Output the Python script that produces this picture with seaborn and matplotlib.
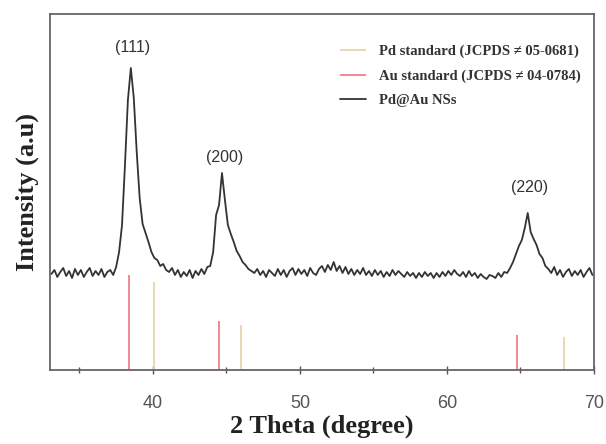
import numpy as np
import pandas as pd
import matplotlib
matplotlib.use("Agg")
import matplotlib.pyplot as plt
import seaborn as sns

# XRD pattern of Pd@Au NSs (0.2 deg steps from 33.1)
two_theta = np.round(np.arange(33.1, 70.0, 0.2), 1)
intensity = [
    96, 100, 93, 98, 102,
    94, 99, 92, 101, 95,
    100, 93, 98, 102, 94,
    99, 95, 101, 93, 98,
    100, 95, 103, 118, 145,
    205, 270, 302, 272, 218,
    172, 146, 137, 128, 118,
    112, 110, 104, 106, 100,
    98, 102, 95, 100, 93,
    98, 94, 100, 92, 99,
    95, 101, 96, 103, 104,
    118, 155, 165, 197, 170,
    145, 136, 128, 119, 114,
    108, 105, 101, 99, 97,
    101, 95, 99, 93, 100,
    97, 94, 101, 95, 100,
    93, 99, 102, 95, 101,
    96, 100, 94, 102, 97,
    95, 101, 104, 98, 105,
    100, 108, 99, 104, 97,
    103, 96, 101, 95, 100,
    96, 102, 95, 99, 94,
    100, 95, 99, 93, 98,
    94, 100, 95, 99, 96,
    93, 98, 94, 97, 92,
    97, 93, 98, 94, 97,
    92, 97, 93, 98, 94,
    99, 95, 100, 96, 94,
    98, 93, 99, 94, 97,
    92, 96, 93, 91, 95,
    94, 92, 97, 93, 98,
    97, 102, 108, 116, 124,
    130, 142, 157, 138, 131,
    125, 116, 112, 104, 101,
    97, 103, 95, 100, 93,
    98, 101, 94, 99, 95,
    100, 93, 98, 102, 95,
]

# reference line patterns
pd_pos = [40.1, 46.0, 68.0]
pd_height = [88, 45, 33]
au_pos = [38.4, 44.5, 64.8]
au_height = [95, 49, 35]

peak_labels = ["(111)", "(200)", "(220)"]
peak_x = [38.6, 44.9, 65.6]
peak_y = [322, 212, 182]

df = pd.DataFrame({"two_theta": two_theta, "intensity": intensity})

sns.set_style("white")
plt.rcParams["font.family"] = ["Liberation Sans", "DejaVu Sans"]

fig = plt.figure(figsize=(6.06, 4.44), dpi=100)
ax = fig.add_axes([0.0825, 0.1667, 0.8975, 0.8018])

ax.vlines(pd_pos, 0, pd_height, color="#e6d6aa", lw=1.3, label="Pd standard (JCPDS \u2260 05-0681)")
ax.vlines(au_pos, 0, au_height, color="#ef7f88", lw=1.3, label="Au standard (JCPDS \u2260 04-0784)")
sns.lineplot(data=df, x="two_theta", y="intensity", ax=ax, color="#333333", lw=1.3,
             label="Pd@Au NSs")

for lab, px, py in zip(peak_labels, peak_x, peak_y):
    ax.text(px, py, lab, ha="center", va="center", fontsize=11.5, color="#333333")

ax.set_xlim(33, 70)
ax.set_ylim(0, 356)
ax.set_xticks([40, 50, 60, 70])
ax.set_xticks([35, 45, 55, 65], minor=True)
ax.set_yticks([])
ax.tick_params(axis="x", which="major", direction="inout", length=6, width=1,
               colors="#555555", labelsize=13, pad=15, bottom=True)
ax.tick_params(axis="x", which="minor", direction="inout", length=5, width=1,
               colors="#555555", bottom=True)
for s in ax.spines.values():
    s.set_color("#666666")
    s.set_linewidth(1.3)

ax.set_xlabel("2 Theta (degree)", family="Liberation Serif", fontweight="bold",
              fontsize=19, color="#222222", labelpad=2)
ax.set_ylabel("Intensity (a.u)", family="Liberation Serif", fontweight="bold",
              fontsize=19, color="#222222", labelpad=8)

leg = ax.legend(loc="upper right", bbox_to_anchor=(1.0, 0.95), frameon=False,
                prop={"family": "Liberation Serif", "weight": "bold", "size": 10.5},
                handlelength=1.8, handletextpad=0.9, labelspacing=0.75)
for t in leg.get_texts():
    t.set_color("#333333")

fig.savefig("out.png", dpi=100)
